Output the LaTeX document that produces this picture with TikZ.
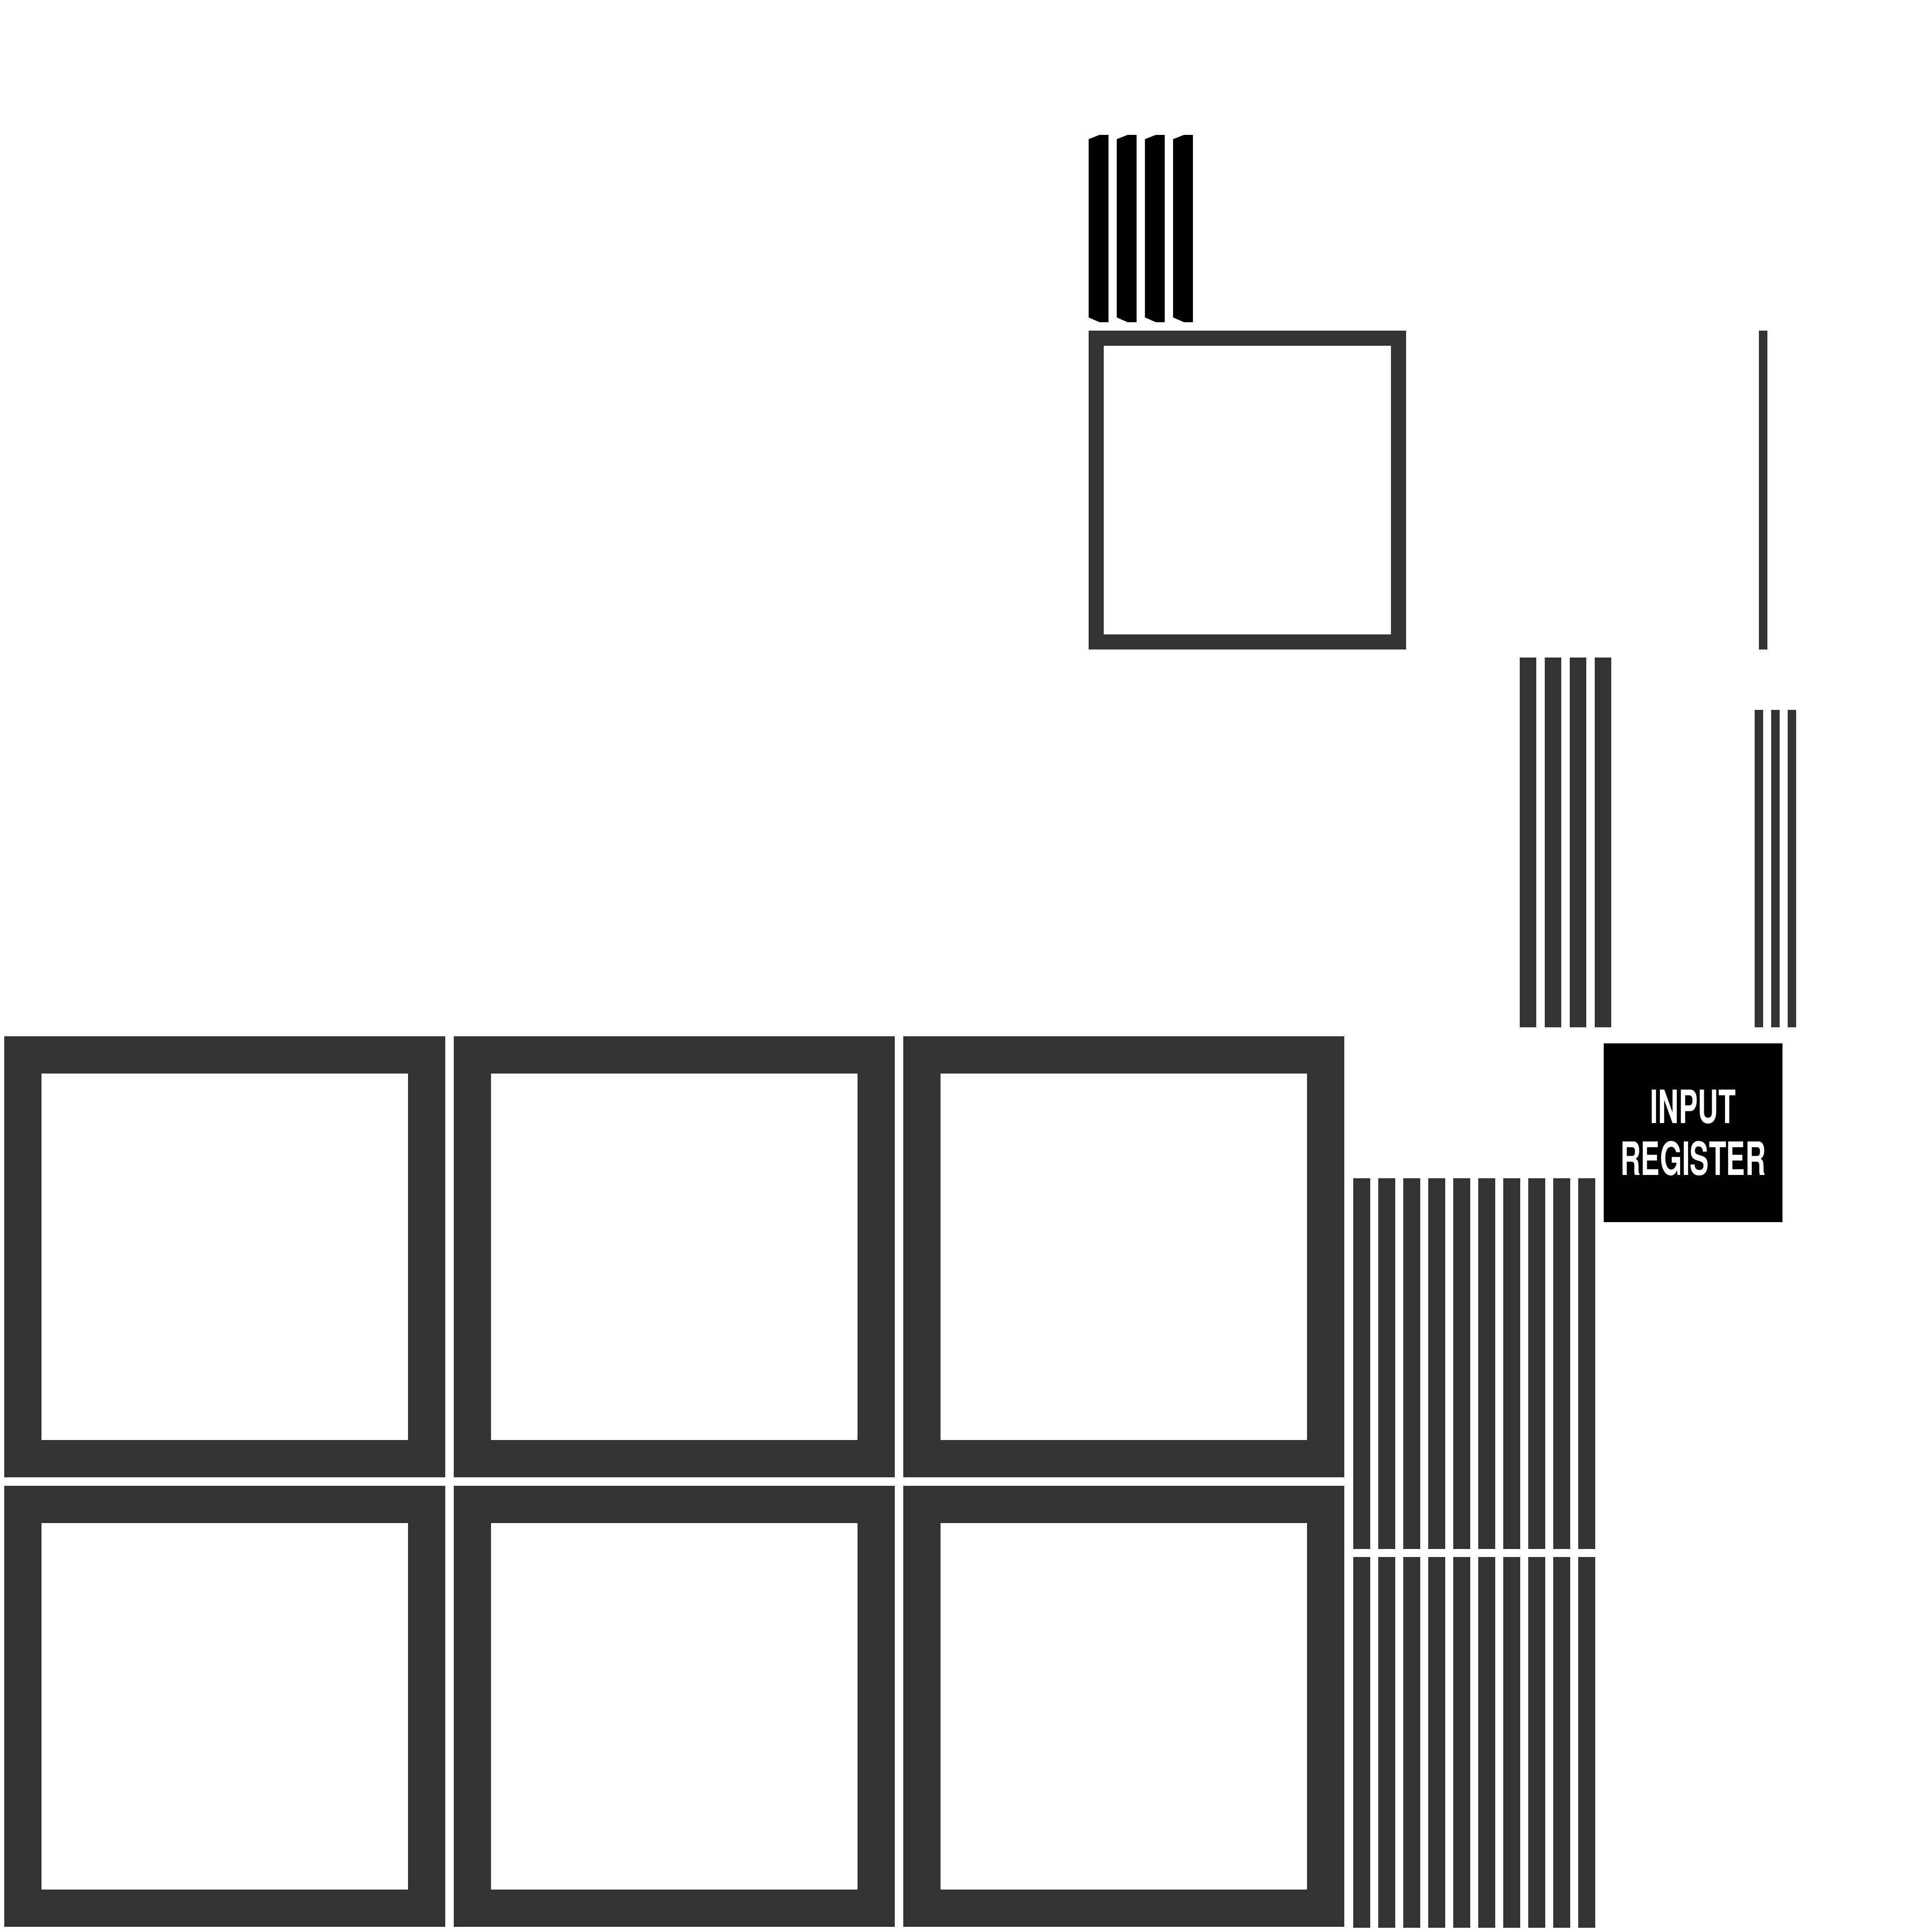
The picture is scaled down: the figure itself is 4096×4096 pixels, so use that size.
\documentclass[tikz,border=0pt]{standalone}
\usepackage{fontspec}
\newfontfamily\regfont{TeX Gyre Heros}
\definecolor{wire}{HTML}{333333}
\tikzset{
  cell/.style={draw=wire, line width=0.79cm, minimum size=8.56cm, inner sep=0pt, outer sep=0pt},
  unitbox/.style={draw=wire, line width=0.32cm, minimum width=6.41cm, minimum height=6.44cm, inner sep=0pt, outer sep=0pt},
  regbox/.style={fill=black, minimum size=3.79cm, inner sep=0pt, align=center, text=white,
    font=\regfont\bfseries\fontsize{27.7pt}{31.3pt}\selectfont},
}
\begin{document}
\begin{tikzpicture}[x=0.01cm, y=-0.01cm]
  \useasboundingbox (0,0) rectangle (4096,4096);

  % top bus into the unit
  \foreach \i in {0,...,3} {
    \pgfmathsetmacro{\bx}{2308+59.7*\i}
    \fill[black] (\bx,295) -- (\bx+23,286) -- (\bx+42,286) -- (\bx+42,683)
      -- (\bx+23,683) -- (\bx,673) -- cycle;
  }

  % unit
  \node[unitbox] (unit) at (2644.5,1039) {};

  % single line on the right
  \fill[wire] (3729,701) rectangle (3747,1377);

  % bus groups above the register
  \foreach \i in {0,...,3}
    \fill[wire] (3222+53*\i,1394) rectangle (3257+53*\i,2178);
  \foreach \i in {0,...,2}
    \fill[wire] (3720+35*\i,1505) rectangle (3738+35*\i,2178);

  % input register
  \node[regbox] (reg) at (3589.5,2401.5) {\scalebox{0.62}[1]{INPUT}\\\scalebox{0.62}[1]{REGISTER}};

  % cells
  \foreach \r/\cy in {1/2664.5, 2/3617.5}
    \foreach \c/\cx in {1/476.5, 2/1429.5, 3/2382.5}
      \node[cell] (cell\r\c) at (\cx,\cy) {};

  % bus beside the cells
  \foreach \i in {0,...,9} {
    \fill[wire] (2869+53*\i,2498) rectangle (2905+53*\i,3284);
    \fill[wire] (2869+53*\i,3301) rectangle (2905+53*\i,4087);
  }
\end{tikzpicture}
\end{document}
